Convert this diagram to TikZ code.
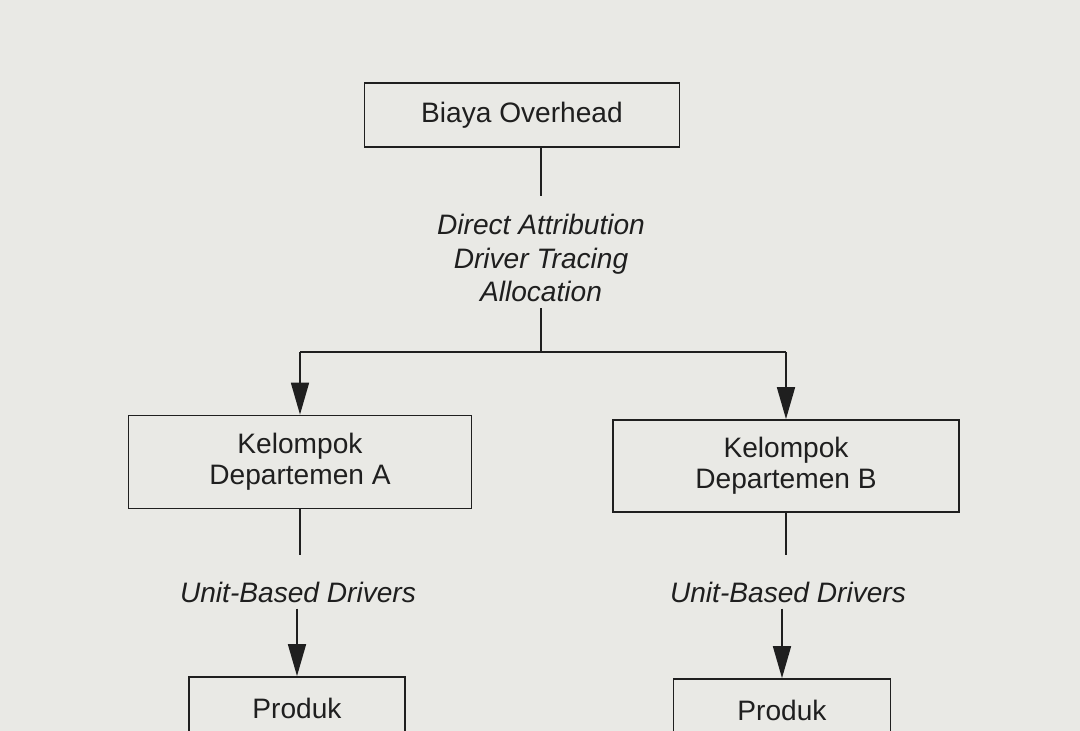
\documentclass[tikz,border=0pt]{standalone}
\usepackage{fontspec}
\setmainfont{Liberation Sans}
\usetikzlibrary{arrows.meta}
\newlength{\du}
\setlength{\du}{0.02cm}
\definecolor{papercolor}{rgb}{0.914, 0.914, 0.898}
\definecolor{inkcolor}{rgb}{0.120, 0.120, 0.120}
\tikzset{
  costbox/.style={draw=inkcolor, line width=1pt, text=inkcolor, align=center,
    font=\fontsize{16}{17.6}\selectfont},
  drivertext/.style={text=inkcolor, align=center,
    font=\fontsize{16}{19.3}\selectfont\itshape},
  flowline/.style={draw=inkcolor, line width=1pt},
  flowarrow/.style={flowline, -{Triangle[length=0.64cm, width=0.36cm]}},
}

\begin{document}
\begin{tikzpicture}[x=\du,y=-\du]
% paper
\fill[papercolor] (0,0) rectangle (1080,731);
\clip (0,0) rectangle (1080,731);
% boxes
\node[costbox, minimum width=315\du, minimum height=64\du] (overhead) at (522,115) {Biaya Overhead};
\node[drivertext] (methods) at (541,258) {Direct Attribution\\Driver Tracing\\Allocation};
\coordinate (split) at (541,352);
\node[costbox, minimum width=343\du, minimum height=93\du] (groupA) at (300,462) {Kelompok\\Departemen A};
\node[costbox, minimum width=346\du, minimum height=92\du] (groupB) at (786,466) {Kelompok\\Departemen B};
\node[drivertext] (driversA) at (298,592) {Unit-Based Drivers};
\node[drivertext] (driversB) at (788,592) {Unit-Based Drivers};
\node[costbox, minimum width=216\du, minimum height=62\du] (produkA) at (297,708) {Produk};
\node[costbox, minimum width=217\du, minimum height=62\du] (produkB) at (782,710) {Produk};
% connectors
\draw[flowline, shorten >=12\du] (overhead.south -| methods.north) -- (methods.north);
\draw[flowline] (methods.south) -- (split);
\draw[flowline] (groupA.north |- split) -- (groupB.north |- split);
\draw[flowarrow] (groupA.north |- split) -- (groupA.north);
\draw[flowarrow] (groupB.north |- split) -- (groupB.north);
\draw[flowline, shorten >=20\du] (groupA.south) -- (groupA.south |- driversA.north);
\draw[flowline, shorten >=20\du] (groupB.south) -- (groupB.south |- driversB.north);
\draw[flowarrow] (produkA.north |- driversA.south) -- (produkA.north);
\draw[flowarrow] (produkB.north |- driversB.south) -- (produkB.north);
\end{tikzpicture}
\end{document}
